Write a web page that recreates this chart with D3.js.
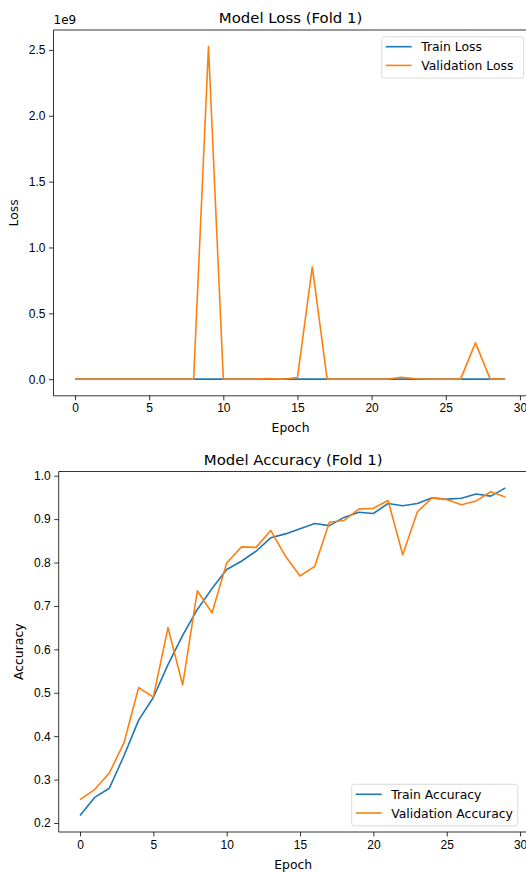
<!DOCTYPE html>
<html lang="en">
<head>
  <meta charset="UTF-8">
  <script src="https://d3js.org/d3.v7.min.js"></script>
  <title>Model Loss / Accuracy (Fold 1)</title>
  <style>
    body { margin: 0; background: white; }
    svg { font-family: "DejaVu Sans", sans-serif; }
    .axis path, .axis line { stroke: #000; stroke-width: 0.8; }
    .axis text { font-size: 12px; fill: #000; }
  </style>
</head>
<body>
  <div id="chart"></div>
  <script>
    // epochs 0..29
    const epochs = d3.range(30);

    // loss per epoch (validation blows up a few times)
    const trainLoss = [1.92, 1.71, 1.58, 1.41, 1.25, 1.13, 1.02, 0.93, 0.82, 0.71,
                       0.62, 0.55, 0.49, 0.42, 0.38, 0.35, 0.31, 0.3, 0.27, 0.24,
                       0.23, 0.19, 0.2, 0.18, 0.15, 0.16, 0.15, 0.13, 0.14, 0.09];
    const valLoss = [1.85, 1.79, 1.72, 1.66, 1.41, 1.48, 1.12, 1.52, 0.93, 2.525e9,
                     1.2e5, 0.78, 0.74, 4.5e6, 0.95, 1.3e7, 8.52e8, 0.51, 0.47, 0.42,
                     0.4, 0.33, 1.5e7, 3.0e6, 0.26, 0.27, 0.31, 2.76e8, 0.22, 0.25];

    const trainAcc = [0.217, 0.259, 0.28, 0.355, 0.437, 0.489, 0.565, 0.632, 0.692, 0.74,
                      0.784, 0.803, 0.826, 0.857, 0.866, 0.878, 0.89, 0.885, 0.904, 0.916,
                      0.913, 0.936, 0.931, 0.936, 0.949, 0.946, 0.948, 0.958, 0.953, 0.972];
    const valAcc = [0.254, 0.277, 0.315, 0.385, 0.512, 0.49, 0.65, 0.518, 0.735, 0.684,
                    0.799, 0.836, 0.835, 0.874, 0.815, 0.769, 0.791, 0.893, 0.897, 0.923,
                    0.925, 0.943, 0.818, 0.917, 0.949, 0.945, 0.933, 0.942, 0.963, 0.951];

    const lossTicks = [0, 0.5e9, 1e9, 1.5e9, 2e9, 2.5e9];
    const accTicks = [0.2, 0.3, 0.4, 0.5, 0.6, 0.7, 0.8, 0.9, 1.0];
    const epochTicks = [0, 5, 10, 15, 20, 25, 30];

    const blue = "#1f77b4", orange = "#ff7f0e";
    const W = 526, H = 872;

    const svg = d3.select("#chart").append("svg")
      .attr("width", W).attr("height", H);

    // matplotlib-ish 5% padding
    function padded(ext) {
      const d = (ext[1] - ext[0]) * 0.05;
      return [ext[0] - d, ext[1] + d];
    }

    function drawPanel(o) {
      const x = d3.scaleLinear().domain(padded([0, 29])).range([o.left, o.right]);
      const allY = o.series.flatMap(s => s.values);
      const y = d3.scaleLinear().domain(padded(d3.extent(allY))).range([o.bottom, o.top]);

      const g = svg.append("g");

      const clip = "clip" + o.id;
      g.append("clipPath").attr("id", clip).append("rect")
        .attr("x", o.left).attr("y", o.top)
        .attr("width", o.right - o.left).attr("height", o.bottom - o.top);

      const line = vals => d3.line()
        .x((d, i) => x(epochs[i]))
        .y(d => y(d))(vals);

      o.series.forEach(s => {
        g.append("path")
          .attr("clip-path", `url(#${clip})`)
          .attr("d", line(s.values))
          .attr("fill", "none")
          .attr("stroke", s.color)
          .attr("stroke-width", 1.6)
          .attr("stroke-linejoin", "round");
      });

      // spines (right one falls off the canvas)
      g.append("path")
        .attr("d", `M${o.right},${o.top}H${o.left}V${o.bottom}H${o.right}`)
        .attr("fill", "none").attr("stroke", "#000").attr("stroke-width", 0.8);

      const xAxis = g.append("g").attr("class", "axis")
        .attr("transform", `translate(0,${o.bottom})`)
        .call(d3.axisBottom(x).tickValues(epochTicks).tickSize(4.5).tickPadding(3.5).tickFormat(d3.format("d")));
      xAxis.select(".domain").remove();

      const yAxis = g.append("g").attr("class", "axis")
        .attr("transform", `translate(${o.left},0)`)
        .call(d3.axisLeft(y).tickValues(o.yTicks).tickSize(4.5).tickPadding(3.5).tickFormat(o.yFormat));
      yAxis.select(".domain").remove();

      g.append("text")
        .attr("x", (o.left + o.right) / 2 + 0.5).attr("y", o.top - 7)
        .attr("text-anchor", "middle").attr("font-size", 14.9)
        .text(o.title);

      g.append("text")
        .attr("x", (o.left + o.right) / 2 + 0.5).attr("y", o.bottom + 36.5)
        .attr("text-anchor", "middle").attr("font-size", 12.4)
        .text("Epoch");

      g.append("text")
        .attr("transform", `translate(${o.ylabX},${(o.top + o.bottom) / 2}) rotate(-90)`)
        .attr("text-anchor", "middle").attr("font-size", 12.4)
        .text(o.ylabel);

      if (o.offset) {
        g.append("text")
          .attr("x", o.left).attr("y", o.top - 6)
          .attr("font-size", 12)
          .text(o.offset);
      }

      // legend
      const lg = g.append("g");
      lg.append("rect")
        .attr("x", o.legend.x).attr("y", o.legend.y)
        .attr("width", o.legend.w).attr("height", 41.5)
        .attr("rx", 2.5)
        .attr("fill", "white").attr("fill-opacity", 0.8)
        .attr("stroke", "#d6d6d6").attr("stroke-width", 0.9);
      o.series.forEach((s, i) => {
        const cy = o.legend.y + 10 + i * 18.7;
        lg.append("line")
          .attr("x1", o.legend.x + 4).attr("x2", o.legend.x + 30)
          .attr("y1", cy).attr("y2", cy)
          .attr("stroke", s.color).attr("stroke-width", 1.6);
        lg.append("text")
          .attr("x", o.legend.x + 39.5).attr("y", cy + 4.5)
          .attr("font-size", 12.4)
          .text(s.name);
      });
    }

    drawPanel({
      id: "loss",
      left: 53.5, right: 526.6, top: 30, bottom: 395.8,
      title: "Model Loss (Fold 1)", ylabel: "Loss", ylabX: 17.5,
      yTicks: lossTicks, yFormat: d => (d / 1e9).toFixed(1), offset: "1e9",
      series: [
        { name: "Train Loss", values: trainLoss, color: blue },
        { name: "Validation Loss", values: valLoss, color: orange }
      ],
      legend: { x: 381.7, y: 36.7, w: 142 }
    });

    drawPanel({
      id: "acc",
      left: 58.7, right: 526.7, top: 471.5, bottom: 832,
      title: "Model Accuracy (Fold 1)", ylabel: "Accuracy", ylabX: 23,
      yTicks: accTicks, yFormat: d3.format(".1f"),
      series: [
        { name: "Train Accuracy", values: trainAcc, color: blue },
        { name: "Validation Accuracy", values: valAcc, color: orange }
      ],
      legend: { x: 351.7, y: 784.3, w: 166 }
    });
  </script>
</body>
</html>
